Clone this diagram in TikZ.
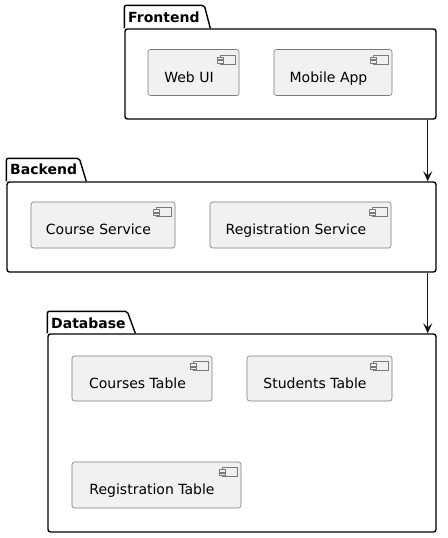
\documentclass[tikz,border=0pt]{standalone}
\usepackage{fontspec}
\usepackage{tikz}
\usetikzlibrary{positioning,calc,arrows.meta}
\newfontfamily\umlfont{DejaVu Sans}
\definecolor{compfill}{HTML}{F1F1F1}
\definecolor{compline}{HTML}{7A7A7A}
\definecolor{arrline}{HTML}{181818}
\tikzset{comp/.style={draw=compline,fill=compfill,line width=0.6pt,rounded corners=2.5pt,minimum height=46pt,inner sep=0pt,font=\umlfont\fontsize{14}{16}\selectfont}}
\tikzset{pkgbody/.style={draw=black,line width=1.4pt,rounded corners=2.5pt,inner sep=0pt}}
\tikzset{pkgtab/.style={draw=black,line width=1.4pt,line join=round}}
\tikzset{pkgtitle/.style={anchor=west,inner sep=0pt,font=\umlfont\bfseries\fontsize{14}{16}\selectfont}}
\tikzset{arr/.style={-{Stealth[length=10pt,width=9pt,inset=4pt]},draw=arrline,line width=1pt}}
\newcommand{\comptext}[1]{\raisebox{-9.5pt}[0pt][0pt]{\hspace*{-9pt}#1}}
\newcommand{\compicon}[1]{%
\draw[draw=compline,fill=compfill,line width=0.6pt] ($(#1.north east)+(-19,6)$) rectangle ($(#1.north east)+(-4,15)$);
\draw[draw=compline,fill=compfill,line width=0.6pt] ($(#1.north east)+(-22,8)$) rectangle ($(#1.north east)+(-16,10.5)$);
\draw[draw=compline,fill=compfill,line width=0.6pt] ($(#1.north east)+(-22,11.5)$) rectangle ($(#1.north east)+(-16,14)$);}

\begin{document}
\begin{tikzpicture}[x=1pt,y=-1pt]
\useasboundingbox (0,0) rectangle (447,538);

\node[pkgbody,minimum width=311pt,minimum height=90pt] (frontend) at (280.5,74) {};
\draw[pkgtab,rounded corners=2pt] (frontend.north west) -- ++(0,-23) -- ++(80,0) -- ++(6,23);
\node[pkgtitle] (frontend-title) at (128,17.5) {Frontend};
\node[comp,minimum width=91pt] (webui) at (193.5,72.5) {\comptext{Web UI}};
\compicon{webui}
\node[comp,minimum width=118pt] (mobileapp) at (333,72.5) {\comptext{Mobile App}};
\compicon{mobileapp}

\node[pkgbody,minimum width=429pt,minimum height=90pt] (backend) at (221.5,227) {};
\draw[pkgtab,rounded corners=2pt] (backend.north west) -- ++(0,-23) -- ++(73,0) -- ++(7,23);
\node[pkgtitle] (backend-title) at (10,169.5) {Backend};
\node[comp,minimum width=144pt] (courseservice) at (103,225) {\comptext{Course Service}};
\compicon{courseservice}
\node[comp,minimum width=181pt] (registrationservice) at (300.5,225) {\comptext{Registration Service}};
\compicon{registrationservice}

\node[pkgbody,minimum width=388pt,minimum height=198pt] (database) at (242,433) {};
\draw[pkgtab,rounded corners=2pt] (database.north west) -- ++(0,-22) -- ++(80,0) -- ++(8,22);
\node[pkgtitle] (database-title) at (51,323.5) {Database};
\node[comp,minimum width=140pt,minimum height=45pt] (coursestable) at (142,378.5) {\comptext{Courses Table}};
\compicon{coursestable}
\node[comp,minimum width=145pt,minimum height=45pt] (studentstable) at (319.5,378.5) {\comptext{Students Table}};
\compicon{studentstable}
\node[comp,minimum width=169pt] (registrationtable) at (156.5,485) {\comptext{Registration Table}};
\compicon{registrationtable}

\draw[arr] ([xshift=-9pt]frontend.south east) -- ([xshift=-9pt]backend.north east);
\draw[arr] ([xshift=-9pt]backend.south east) -- ([xshift=-9pt]database.north east);
\end{tikzpicture}
\end{document}
